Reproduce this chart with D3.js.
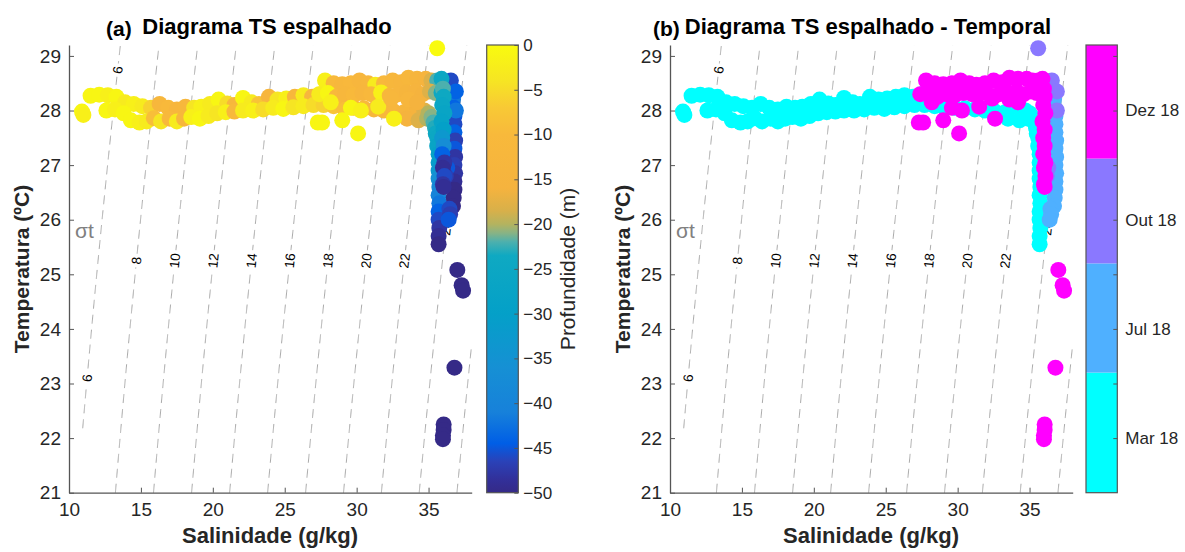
<!DOCTYPE html>
<html>
<head>
<meta charset="utf-8">
<script src="https://cdn.jsdelivr.net/npm/d3@7"></script>
<style>
  body { margin: 0; background: #fff; }
  svg text { font-family: "Liberation Sans", Arial, Helvetica, sans-serif; }
</style>
</head>
<body>
<svg id="fig" width="1185" height="552"></svg>
<script>
// ---------------- data ----------------
const salTicks = [10, 15, 20, 25, 30, 35];
const tempTicks = [21, 22, 23, 24, 25, 26, 27, 28, 29];
const depthTicks = [0, -5, -10, -15, -20, -25, -30, -35, -40, -45, -50];

// colorbar of depth
const depthStops  = [0, -4, -7, -10, -16, -18.5, -20, -21, -22, -23.5, -30, -36, -41, -44.5, -46.5, -48.5, -50];
const depthColors = ["#f9fb0e", "#f6e523", "#f8c935", "#f8b93b", "#f5b33e", "#d8b04a", "#b4b35f", "#88b385",
                     "#4cb0ae", "#0fa9c2", "#04a0c8", "#1690d4", "#1781da", "#005ee6", "#2a42b8", "#32309a", "#352a87"];

// campaigns (panel b)
const months = ["Mar 18", "Jul 18", "Out 18", "Dez 18"];
const monthColors = ["#00ffff", "#4fb0ff", "#8a78ff", "#ff00ff"];
const monthTicks = [0, 0.5, 1, 1.5, 2, 2.5, 3, 3.5];
const monthEdges = [-0.5, 0.6, 1.6, 2.56, 3.6];

// sigma-t isolines and where their labels sit (temperature)
const sigmaLevels = [6, 8, 10, 12, 14, 16, 18, 20, 22, 24, 26];
const sigmaLabels = [[6, 28.74], [6, 23.1], [8, 25.25], [10, 25.25], [12, 25.25], [14, 25.25],
                     [16, 25.25], [18, 25.25], [20, 25.25], [22, 25.25], [24, 25.85]];

// [salinity, temperature, depth]
const mar = [
  [11.5,28.27,-1],[12.1,28.29,-1],[12.7,28.28,-2],[13.3,28.25,-1],[13.9,28.15,-3],[14.5,28.12,-2],
  [15.1,28.08,-3],[15.7,28.05,-6],[16.3,28.12,-12],[16.9,28.05,-10],[17.5,28.02,-13],[18.1,28.07,-12],
  [18.7,28.05,-4],[19.2,28.07,-2],[19.8,28.12,-3],[20.4,28.2,-1],[21.0,28.13,-5],[21.5,28.1,-12],
  [22.1,28.23,-1],[22.7,28.15,-3],[23.2,28.12,-8],[23.9,28.25,-13],[24.5,28.2,-4],[25.1,28.22,-2],
  [25.7,28.25,-12],[26.3,28.28,-3],[26.9,28.25,-13],[27.5,28.3,-2],
  [10.9,27.98,-1],[11.0,27.92,-2],[12.6,28.0,-1],[13.2,28.02,-2],[13.8,27.95,-1],[14.3,27.82,-1],
  [14.9,27.78,-2],[15.4,27.8,-3],[15.9,27.86,-9],[16.4,27.8,-4],[17.0,27.85,-11],[17.5,27.8,-3],
  [18.0,27.85,-12],[18.5,27.88,-2],[19.1,27.85,-1],[19.7,27.9,-3],[20.3,27.95,-4],[20.9,27.97,-2],
  [21.5,27.98,-10],[22.1,28.0,-3],[22.8,28.0,-2],[23.5,28.02,-5],[24.2,28.05,-3],[24.9,28.03,-1],
  [25.6,28.06,-4],[26.3,28.08,-3],[27.0,28.1,-5],
  [27.7,28.1,-6],[28.4,28.08,-8],[29.1,28.05,-9],[29.8,28.05,-10],[30.5,28.04,-11],[31.2,28.02,-12],
  [31.9,28.0,-12],[32.6,27.98,-13],[33.3,27.97,-14],[33.5,27.85,-16],[34.2,28.05,-16],[34.3,27.82,-18],
  [34.7,28.0,-18],[34.9,27.85,-20],[35.0,27.95,-20],[35.2,27.88,-21],[35.35,27.78,-22],[35.45,27.68,-23],
  [35.5,27.58,-24],[35.6,27.5,-25],[35.6,27.35,-27],[35.7,27.2,-29],[35.7,27.05,-31],[35.7,26.9,-33],
  [35.7,26.75,-36],[35.75,26.6,-38],[35.7,26.45,-40],[35.75,26.3,-42],[35.7,26.15,-44],[35.7,26.0,-46],
  [35.75,25.85,-48],[35.7,25.7,-49],[35.7,25.55,-50]
];
const jul = [
  [36.6,28.35,-38],[36.7,28.2,-42],[36.75,28.05,-44],[36.8,27.9,-45],[36.8,27.75,-46],[36.8,27.6,-44],
  [36.85,27.45,-47],[36.8,27.3,-45],[36.85,27.15,-48],[36.8,27.0,-47],[36.85,26.85,-48],[36.8,26.7,-49],
  [36.8,26.55,-50],[36.75,26.4,-50],[36.7,26.25,-50],[36.45,26.2,-46],[36.5,26.1,-47],[36.4,26.0,-45]
];
const out = [
  [35.6,29.14,0],[36.55,28.55,-46],[36.9,28.35,-44],[36.9,28.0,-42],[36.3,26.95,-45],[36.2,26.8,-47]
];
const dez = [
  [27.8,28.55,-2],[28.4,28.5,-10],[29.0,28.48,-12],[29.6,28.5,-11],[30.2,28.55,-13],[30.8,28.5,-12],
  [31.3,28.47,-3],[31.9,28.5,-11],[32.5,28.55,-12],[33.1,28.52,-13],[33.6,28.6,-12],[34.2,28.58,-14],
  [34.8,28.58,-15],[35.2,28.55,-18],[35.6,28.55,-22],[35.9,28.58,-25],
  [27.4,28.3,-3],[28.0,28.32,-1],[28.6,28.25,-11],[29.2,28.3,-12],[29.8,28.28,-10],[30.4,28.32,-13],
  [31.0,28.3,-11],[31.7,28.33,-2],[32.3,28.27,-12],[32.9,28.3,-13],[33.5,28.33,-14],[34.1,28.35,-15],
  [34.6,28.3,-16],[35.1,28.35,-18],[35.5,28.32,-21],[35.9,28.33,-24],
  [28.2,28.15,-2],[29.6,28.05,-1],[31.5,28.07,-3],[32.4,28.22,-12],[33.6,28.2,-13],[34.2,28.15,-16],
  [27.3,27.78,-1],[27.6,27.78,-1],[29.0,27.82,-1],[30.1,27.58,-1],[32.6,27.85,-2],[30.3,28.0,-2],
  [36.0,28.4,-22],[36.05,28.25,-24],[35.95,28.1,-26],[36.1,27.95,-27],[35.9,27.8,-28],[36.05,27.65,-30],
  [35.95,27.5,-33],[36.05,27.35,-37],[35.95,27.2,-44],[36.1,27.05,-48],[36.0,26.95,-49],[36.1,26.8,-46],
  [36.0,26.65,-48],[36.05,26.6,-49],
  [37.0,25.08,-50],[37.3,24.8,-50],[37.4,24.7,-50],[36.8,23.29,-50],
  [36.05,22.25,-50],[36.05,22.15,-50],[36.0,22.05,-50],[36.0,21.98,-50]
];
const campaigns = [mar, jul, out, dez];

// ---------------- setup ----------------
const ink = "#262626";
const svg = d3.select("#fig");
const points = campaigns.flatMap((c, i) => c.map(p => ({s: p[0], t: p[1], z: p[2], m: i})));

const y = d3.scaleLinear().domain([21, 29.2]).range([492.7, 45]);
const depthColor = d3.scaleLinear().domain(depthStops).range(depthColors).clamp(true);

// UNESCO EOS-80 density at surface pressure, minus 1000
function sigmaT(S, T) {
  const rw = 999.842594 + 6.793952e-2*T - 9.095290e-3*T*T + 1.001685e-4*T**3 - 1.120083e-6*T**4 + 6.536332e-9*T**5;
  const A = 0.824493 - 4.0899e-3*T + 7.6438e-5*T*T - 8.2467e-7*T**3 + 5.3875e-9*T**4;
  const B = -5.72466e-3 + 1.0227e-4*T - 1.6546e-6*T*T;
  return rw + A*S + B*Math.pow(S, 1.5) + 4.8314e-4*S*S - 1000;
}
// salinity on an isopycnal for a given temperature (bisection)
function salOn(level, T) {
  let lo = 0, hi = 50;
  for (let k = 0; k < 50; k++) {
    const mid = (lo + hi) / 2;
    if (sigmaT(mid, T) < level) lo = mid; else hi = mid;
  }
  return (lo + hi) / 2;
}

function drawPanel(dx, letter, title, fill) {
  const x = d3.scaleLinear().domain([10, 38]).range([69 + dx, 471.7 + dx]);
  const g = svg.append("g");

  // isopycnals (grid starts at the lowest salinity)
  const tGrid = d3.range(21, 29.2001, 0.02);
  const line = d3.line().x(d => x(d[0])).y(d => y(d[1]));
  sigmaLevels.forEach(level => {
    const pts = tGrid.map(t => [salOn(level, t), t]).filter(d => d[0] >= 10.95 && d[0] <= 38);
    g.append("path").attr("d", line(pts))
      .attr("fill", "none").attr("stroke", "#aaa").attr("stroke-width", 1)
      .attr("stroke-dasharray", "9,6");
  });
  sigmaLabels.forEach(([level, t]) => {
    const px = x(salOn(level, t)), py = y(t);
    const ang = Math.atan2(y(t + 0.2) - y(t - 0.2), x(salOn(level, t + 0.2)) - x(salOn(level, t - 0.2))) * 180 / Math.PI;
    const lg = g.append("g").attr("transform", `translate(${px},${py}) rotate(${ang})`);
    const w = String(level).length * 7.5 + 6;
    lg.append("rect").attr("x", -w/2).attr("y", -7).attr("width", w).attr("height", 14).attr("fill", "#fff");
    lg.append("text").attr("text-anchor", "middle").attr("dy", "0.35em")
      .attr("font-size", 13.5).attr("fill", "#000").text(level);
  });
  g.append("text").attr("x", 75 + dx).attr("y", 238).attr("font-size", 21).attr("fill", "#808080").text("σt");

  // scatter
  g.selectAll("circle.pt").data(points).enter().append("circle")
    .attr("class", "pt")
    .attr("cx", d => x(d.s)).attr("cy", d => y(d.t)).attr("r", 8)
    .attr("fill", fill);

  // axes
  const ax = g.append("g").attr("transform", `translate(${69 + dx},0)`)
    .call(d3.axisLeft(y).tickValues(tempTicks).tickSize(-5).tickSizeOuter(0).tickPadding(8));
  const bx = g.append("g").attr("transform", "translate(0,492.7)")
    .call(d3.axisBottom(x).tickValues(salTicks).tickSize(-5).tickSizeOuter(0).tickPadding(10));
  [ax, bx].forEach(a => {
    a.select(".domain").attr("stroke", "#555").attr("stroke-width", 1.3);
    a.selectAll(".tick line").attr("stroke", "#555");
    a.selectAll("text").attr("font-size", 19).attr("fill", ink).style("font-family", "Liberation Sans, Arial, sans-serif");
  });

  g.append("text").attr("x", 270 + dx).attr("y", 543).attr("text-anchor", "middle")
    .attr("font-size", 22).attr("font-weight", "bold").attr("fill", ink).text("Salinidade (g/kg)");
  g.append("text").attr("transform", `translate(${29 + dx},269) rotate(-90)`).attr("text-anchor", "middle")
    .attr("font-size", 21).attr("font-weight", "bold").attr("fill", ink).text("Temperatura (ºC)");

  g.append("text").attr("x", 267 + dx).attr("y", 34).attr("text-anchor", "middle")
    .attr("font-size", 22).attr("font-weight", "bold").attr("fill", "#000").text(title);
  g.append("text").attr("x", (dx ? 653 : 106)).attr("y", 36)
    .attr("font-size", 21).attr("font-weight", "bold").attr("fill", "#000").text(letter);
}

drawPanel(0, "(a)", "Diagrama TS espalhado", d => depthColor(d.z));
drawPanel(601, "(b)", "Diagrama TS espalhado - Temporal", d => monthColors[d.m]);

// ---------------- colorbar (a): depth ----------------
const cbA = svg.append("g");
const cy = d3.scaleLinear().domain([-50, 0]).range([492.7, 45]);
const cbX0 = 486.7, cbX1 = 518.3;
const grad = svg.append("defs").append("linearGradient").attr("id", "depthGrad")
  .attr("x1", 0).attr("y1", 0).attr("x2", 0).attr("y2", 1);
grad.selectAll("stop").data(depthStops).enter().append("stop")
  .attr("offset", d => d / -50)
  .attr("stop-color", (d, i) => depthColors[i]);
cbA.append("rect").attr("x", cbX0).attr("y", 45).attr("width", cbX1 - cbX0).attr("height", 447.7)
  .attr("fill", "url(#depthGrad)").attr("stroke", "#555").attr("stroke-width", 1.2);
const cax = cbA.append("g").attr("transform", `translate(${cbX1},0)`)
  .call(d3.axisRight(cy).tickValues(depthTicks).tickSize(-4).tickPadding(5));
cax.select(".domain").remove();
cax.selectAll(".tick line").attr("stroke", "#555");
cax.selectAll("text").attr("font-size", 17).attr("fill", ink).style("font-family", "Liberation Sans, Arial, sans-serif");
cbA.append("text").attr("transform", "translate(575,269) rotate(-90)").attr("text-anchor", "middle")
  .attr("font-size", 21).attr("fill", ink).text("Profundidade (m)");

// ---------------- colorbar (b): campaigns ----------------
const cbB = svg.append("g");
const my = d3.scaleLinear().domain([monthEdges[0], monthEdges[4]]).range([492.7, 45]);
const cbbX0 = 1086, cbbX1 = 1117.3;
cbB.selectAll("rect.m").data(months).enter().append("rect")
  .attr("x", cbbX0).attr("width", cbbX1 - cbbX0)
  .attr("y", (d, i) => my(monthEdges[i + 1])).attr("height", (d, i) => my(monthEdges[i]) - my(monthEdges[i + 1]))
  .attr("fill", (d, i) => monthColors[i]);
cbB.append("rect").attr("x", cbbX0).attr("y", 45).attr("width", cbbX1 - cbbX0).attr("height", 447.7)
  .attr("fill", "none").attr("stroke", "#555").attr("stroke-width", 1.2);
const max = cbB.append("g").attr("transform", `translate(${cbbX1},0)`)
  .call(d3.axisRight(my).tickValues(monthTicks).tickSize(-4).tickPadding(8)
    .tickFormat(v => Number.isInteger(v) ? months[v] : ""));
max.select(".domain").remove();
max.selectAll(".tick line").attr("stroke", "#555");
max.selectAll("text").attr("font-size", 17).attr("fill", ink).style("font-family", "Liberation Sans, Arial, sans-serif");
</script>
</body>
</html>
